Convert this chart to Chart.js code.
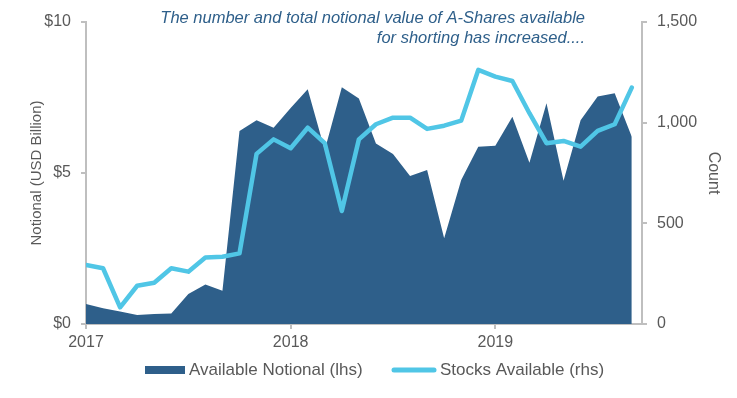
<!DOCTYPE html>
<html>
<head>
<meta charset="utf-8">
<script src="https://cdn.jsdelivr.net/npm/chart.js@4.4.1/dist/chart.umd.min.js"></script>
<style>
  html, body { margin: 0; padding: 0; background: #fff; }
  #wrap { width: 737px; height: 398px; position: relative; }
</style>
</head>
<body>
<div id="wrap"><canvas id="shortChart"></canvas></div>
<script>
// monthly points, Jan 2017 .. Sep 2019
const MONTHS = [
  '2017-01', '2017-02', '2017-03', '2017-04', '2017-05', '2017-06',
  '2017-07', '2017-08', '2017-09', '2017-10', '2017-11', '2017-12',
  '2018-01', '2018-02', '2018-03', '2018-04', '2018-05', '2018-06',
  '2018-07', '2018-08', '2018-09', '2018-10', '2018-11', '2018-12',
  '2019-01', '2019-02', '2019-03', '2019-04', '2019-05', '2019-06',
  '2019-07', '2019-08', '2019-09'
];

// USD billion (lhs)
const NOTIONAL = [
  0.66, 0.52, 0.41, 0.30, 0.33, 0.35, 0.99, 1.31, 1.10, 6.39, 6.75, 6.50,
  7.15, 7.77, 5.76, 7.84, 7.47, 5.98, 5.63, 4.90, 5.10, 2.84, 4.77, 5.87,
  5.90, 6.86, 5.34, 7.31, 4.74, 6.75, 7.53, 7.64, 6.20
];

// count of stocks (rhs)
const STOCKS = [
  293, 277, 83, 190, 205, 277, 260, 330, 334, 351, 845, 917,
  873, 975, 898, 561, 917, 992, 1025, 1025, 969, 985, 1010, 1262,
  1229, 1207, 1047, 898, 909, 881, 959, 992, 1174
];

const YEAR_TICKS = ['2017-01', '2018-01', '2019-01'];
const LEFT_TICKS = [0, 5, 10];
const RIGHT_TICKS = [0, 500, 1000, 1500];

// date axis runs a bit past the last month
const X_MAX = 32.6;

const NOTE_LINES = [
  'The number and total notional value of A-Shares available',
  'for shorting has increased....'
];

const COLORS = {
  AREA: '#2E5F8A',
  LINE: '#50C6E6',
  AXIS: '#BFBFBF',
  TEXT: '#595959',
  NOTE: '#2E5F8A'
};

const FONT_FAMILY = '"Liberation Sans", Arial, sans-serif';

const toPoints = values => values.map((v, i) => ({ x: i, y: v }));

// italic note in the top right corner
const notePlugin = {
  id: 'note',
  afterDraw(chart) {
    const { ctx } = chart;
    ctx.save();
    ctx.font = 'italic 16.5px ' + FONT_FAMILY;
    ctx.fillStyle = COLORS.NOTE;
    ctx.textAlign = 'right';
    ctx.textBaseline = 'middle';
    NOTE_LINES.forEach((line, i) => ctx.fillText(line, 585, 18 + i * 20));
    ctx.restore();
  }
};

// legend drawn by hand: built-in one can't set the box/text gap
const legendPlugin = {
  id: 'bottomLegend',
  afterDraw(chart) {
    const { ctx } = chart;
    const [line, area] = chart.data.datasets;
    const y = 370;
    ctx.save();
    ctx.font = '17px ' + FONT_FAMILY;
    ctx.textBaseline = 'middle';

    ctx.fillStyle = area.backgroundColor;
    ctx.fillRect(145, y - 4, 40, 8);
    ctx.fillStyle = COLORS.TEXT;
    ctx.fillText(area.label, 189, y);

    ctx.strokeStyle = line.borderColor;
    ctx.lineWidth = 5;
    ctx.lineCap = 'round';
    ctx.beginPath();
    ctx.moveTo(394, y);
    ctx.lineTo(434, y);
    ctx.stroke();
    ctx.fillText(line.label, 440, y);
    ctx.restore();
  }
};

const axisStyle = {
  border: { display: true, color: COLORS.AXIS, width: 2 },
  grid: { display: true, drawOnChartArea: false, color: COLORS.AXIS, lineWidth: 2, tickLength: 5 }
};

new Chart(document.getElementById('shortChart'), {
  type: 'line',
  data: {
    datasets: [{
      label: 'Stocks Available (rhs)',
      data: toPoints(STOCKS),
      yAxisID: 'y1',
      borderColor: COLORS.LINE,
      backgroundColor: COLORS.LINE,
      borderWidth: 4.5,
      borderJoinStyle: 'round',
      borderCapStyle: 'round',
      pointRadius: 0,
      tension: 0,
      fill: false
    }, {
      label: 'Available Notional (lhs)',
      data: toPoints(NOTIONAL),
      yAxisID: 'y',
      borderWidth: 0,
      backgroundColor: COLORS.AREA,
      pointRadius: 0,
      tension: 0,
      fill: 'origin'
    }]
  },
  options: {
    responsive: true,
    maintainAspectRatio: false,
    animation: false,
    layout: { padding: { top: 22, left: 0, right: 0, bottom: 47 } },
    plugins: {
      legend: { display: false },
      tooltip: { enabled: false }
    },
    scales: {
      x: {
        ...axisStyle,
        type: 'linear',
        min: 0,
        max: X_MAX,
        afterBuildTicks: axis => {
          axis.ticks = YEAR_TICKS.map(m => ({ value: MONTHS.indexOf(m) }));
        },
        afterFit: scale => { scale.height = 27; },
        ticks: {
          autoSkip: false,
          maxRotation: 0,
          padding: 4,
          color: COLORS.TEXT,
          font: { family: FONT_FAMILY, size: 16 },
          callback: value => MONTHS[value].slice(0, 4)
        }
      },
      y: {
        ...axisStyle,
        position: 'left',
        min: 0,
        max: 10,
        afterBuildTicks: axis => { axis.ticks = LEFT_TICKS.map(v => ({ value: v })); },
        afterFit: scale => { scale.width = 86; },
        ticks: {
          padding: 10,
          color: COLORS.TEXT,
          font: { family: FONT_FAMILY, size: 16 },
          callback: v => '$' + v
        },
        title: {
          display: true,
          text: 'Notional (USD Billion)',
          color: COLORS.TEXT,
          font: { family: FONT_FAMILY, size: 15 },
          padding: { top: 28, bottom: 0 }
        }
      },
      y1: {
        ...axisStyle,
        position: 'right',
        min: 0,
        max: 1500,
        afterBuildTicks: axis => { axis.ticks = RIGHT_TICKS.map(v => ({ value: v })); },
        afterFit: scale => { scale.width = 95; },
        ticks: {
          padding: 10,
          color: COLORS.TEXT,
          font: { family: FONT_FAMILY, size: 16 },
          callback: v => v.toLocaleString('en-US')
        },
        title: {
          display: true,
          text: 'Count',
          color: COLORS.TEXT,
          font: { family: FONT_FAMILY, size: 16 },
          padding: { top: 14, bottom: 0 }
        }
      }
    }
  },
  plugins: [notePlugin, legendPlugin]
});
</script>
</body>
</html>
